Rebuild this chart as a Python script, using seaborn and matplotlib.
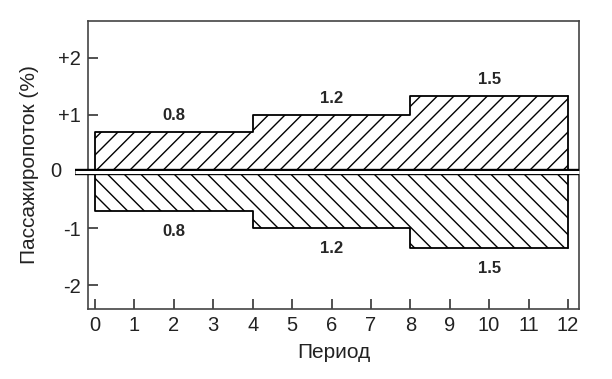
import matplotlib
matplotlib.use("Agg")
import matplotlib.pyplot as plt
import seaborn as sns
import pandas as pd

# Data
edges = [0, 4, 8, 12]
upper = [0.7, 1.0, 1.33]
lower = [-0.7, -1.0, -1.35]
value_labels = ["0.8", "1.2", "1.5"]
x_ticks = list(range(0, 13))
y_ticks = [2, 1, 0, -1, -2]
y_tick_labels = ["+2", "+1", "", "-1", "-2"]

sns.set_style("white")
plt.rcParams['font.family'] = ['Liberation Sans', 'DejaVu Sans']
plt.rcParams['hatch.linewidth'] = 1.0

fig = plt.figure(figsize=(6.12, 3.79), dpi=100)
ax = fig.add_axes([0.1438, 0.1847, 0.946 - 0.1438, 0.9446 - 0.1847])

up_ext = upper + [upper[-1]]
lo_ext = lower + [lower[-1]]
df = pd.DataFrame({"x": edges + edges, "y": up_ext + lo_ext,
                   "side": ["up"] * 4 + ["down"] * 4})

ax.fill_between(edges, 0, up_ext, step="post", facecolor="white",
                edgecolor="black", hatch="//", linewidth=0)
ax.fill_between(edges, 0, lo_ext, step="post", facecolor="white",
                edgecolor="black", hatch="\\\\", linewidth=0)

for side in ["up", "down"]:
    sub = df[df.side == side]
    xs = [sub.x.iloc[0]] + list(sub.x)
    ys = [0] + list(sub.y)
    ax.plot(xs, ys, drawstyle="steps-post", color="black", linewidth=1.3)
    ax.plot([edges[-1], edges[-1]], [0, sub.y.iloc[-1]], color="black", linewidth=1.3)

# Value labels
for i, lab in enumerate(value_labels):
    xc = (edges[i] + edges[i + 1]) / 2
    ax.annotate(lab, (xc, upper[i]), xytext=(0, 12), textcoords="offset points",
                ha="center", va="center", fontsize=12, fontweight="bold")
    ax.annotate(lab, (xc, lower[i]), xytext=(0, -14.5), textcoords="offset points",
                ha="center", va="center", fontsize=12, fontweight="bold")

# Double zero line
ax.plot([-0.5, 12.28], [0, 0], color="black", linewidth=4.6, clip_on=False,
        solid_capstyle="butt", zorder=5)
ax.plot([-0.5, 12.28], [0, 0], color="white", linewidth=2.2, clip_on=False,
        solid_capstyle="butt", zorder=6)
ax.text(-0.85, 0, "0", ha="right", va="center", fontsize=14.5, color="#222222")

ax.set_xlim(-0.18, 12.28)
ax.set_ylim(-2.42, 2.65)
ax.set_xticks(x_ticks)
ax.set_yticks(y_ticks)
ax.set_yticklabels(y_tick_labels)
ax.tick_params(axis="both", direction="in", length=7, width=1.2, color="#333333",
               labelsize=14.5, labelcolor="#222222", pad=5, bottom=True, left=True)
for s in ax.spines.values():
    s.set_color("#444444")
    s.set_linewidth(1.2)

ax.set_xlabel("Период", fontsize=15, labelpad=6, color="#222222")
ax.set_ylabel("Пассажиропоток (%)", fontsize=15, labelpad=14, color="#222222")

fig.savefig("out.png", dpi=100)
